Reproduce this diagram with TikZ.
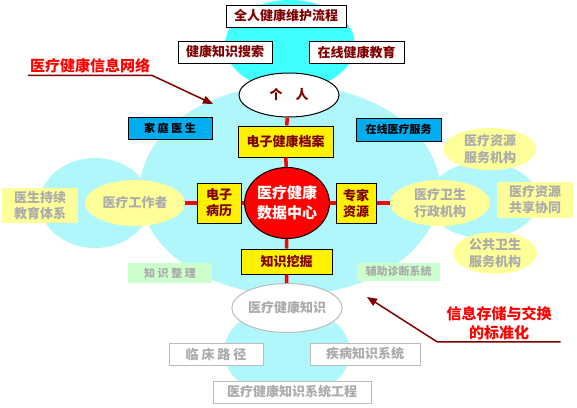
\documentclass[tikz,border=0pt]{standalone}
\usepackage{fontspec}
\setmainfont{Noto Sans CJK SC}
\usetikzlibrary{arrows.meta,shapes.geometric}
\definecolor{maroon}{HTML}{800000}
\definecolor{ghost}{HTML}{ABABAB}
\definecolor{paleyellow}{HTML}{FFFF99}
\definecolor{palegreen}{HTML}{CCFFCC}
\definecolor{dotcyan}{HTML}{B0F7FB}
\definecolor{gridcyan}{HTML}{40FFFF}
\newcommand{\cjksize}[2]{\bfseries\fontsize{#1}{#2}\selectfont}

\begin{document}
\begin{tikzpicture}[
x=1pt, y=-1pt,
darkbox/.style={draw, line width=1pt, fill=white, text=maroon, inner sep=0pt, minimum height=22pt, font=\cjksize{13}{16}},
cyanbox/.style={draw, line width=1pt, fill=cyan, text=black, inner sep=0pt, minimum height=22pt, font=\cjksize{11}{13}},
corebox/.style={draw, line width=1pt, fill=yellow, text=maroon, inner sep=0pt, align=center, font=\cjksize{13}{16}},
hub/.style={ellipse, draw, line width=1pt, fill=red, text=white, align=center, inner sep=0pt, font=\cjksize{15}{20}},
ghostoval/.style={ellipse, fill=paleyellow, text=ghost, align=center, inner sep=0pt, font=\cjksize{13}{17}},
ghostpad/.style={fill=paleyellow, text=ghost, align=center, inner sep=0pt, font=\cjksize{13}{16}},
ghostnote/.style={fill=palegreen, text=ghost, inner sep=0pt, font=\cjksize{11}{13}},
ghostbox/.style={draw=ghost!80, line width=1pt, fill=white, text=ghost, inner sep=0pt, minimum height=22pt, font=\cjksize{13}{16}},
link/.style={red, line width=3.5pt},
leader/.style={maroon, line width=1.5pt, -{Triangle[length=10pt,width=8pt]}},
callout/.style={text=red, align=center, font=\cjksize{15}{19}}
]
\useasboundingbox (0,0) rectangle (577,407);

% backgrounds
\fill[gridcyan] (290,45) ellipse [x radius=65pt, y radius=45pt];
\fill[dotcyan] (95,203) ellipse [x radius=55pt, y radius=45pt];
\fill[dotcyan] (483,200) ellipse [x radius=55pt, y radius=38pt];
\fill[dotcyan] (287,352) ellipse [x radius=63pt, y radius=46pt];
\fill[dotcyan] (290,190) ellipse [x radius=150pt, y radius=105pt];

% nodes
\node[darkbox, minimum width=120pt] (care) at (286,16) {全人健康维护流程};
\node[darkbox, minimum width=94pt] (search) at (225,52) {健康知识搜索};
\node[darkbox, minimum width=95pt] (edu) at (356.5,52) {在线健康教育};
\node[ellipse, draw, line width=1pt, fill=white, text=maroon, minimum width=100pt, minimum height=44pt, inner sep=0pt, font=\cjksize{13}{16}] (person) at (289,95) {个\quad 人};

\node[cyanbox, minimum width=84pt] (family) at (170,128) {家 庭 医 生};
\node[cyanbox, minimum width=85pt, minimum height=23pt] (online) at (398.5,129.5) {在线医疗服务};

\node[corebox, minimum width=95pt, minimum height=31pt] (ehr) at (285.5,141.5) {电子健康档案};
\node[corebox, minimum width=44pt, minimum height=40pt] (emr) at (219,203) {电子\\病历};
\node[corebox, minimum width=40pt, minimum height=40pt] (expert) at (356,203) {专家\\资源};
\node[corebox, minimum width=91pt, minimum height=25pt] (mining) at (286.5,261.5) {知识挖掘};
\node[hub, minimum width=83pt, minimum height=71pt] (datahub) at (287,203) {医疗健康\\数据中心};

\node[ghostoval, minimum width=100pt, minimum height=46pt] (worker) at (135,203) {医疗工作者};
\node[ghostoval, minimum width=93pt, minimum height=42pt] (resource) at (490,149) {医疗资源\\服务机构};
\node[ghostoval, minimum width=100pt, minimum height=46pt] (admin) at (440,203) {医疗卫生\\行政机构};
\node[ghostoval, minimum width=84pt, minimum height=40pt] (public) at (495,253) {公共卫生\\服务机构};
\node[ghostpad, minimum width=76pt, minimum height=35pt] (cme) at (40,205.5) {医生持续\\教育体系};
\node[ghostpad, minimum width=76pt, minimum height=36pt] (share) at (535,200) {医疗资源\\共享协同};
\node[ghostnote, minimum width=84pt, minimum height=20pt] (sorting) at (170,273) {知 识 整 理};
\node[ghostnote, minimum width=83pt, minimum height=18pt] (diagnosis) at (398.5,271.5) {辅助诊断系统};

\node[ellipse, draw=ghost!80, line width=1pt, fill=white, text=ghost, minimum width=100pt, minimum height=49pt, inner sep=0pt, font=\cjksize{13}{16}] (knowledge) at (287,308) {医疗健康知识};
\node[ghostbox, minimum width=94pt] (pathway) at (216,354) {临 床 路 径};
\node[ghostbox, minimum width=110pt] (disease) at (365,354) {疾病知识系统};
\node[ghostbox, minimum width=158pt] (project) at (292,392) {医疗健康知识系统工程};

% red links
\draw[link] (person) -- (ehr);
\draw[link] (ehr) -- (datahub);
\draw[link] (datahub) -- (mining);
\draw[link] (mining) -- (knowledge);
\draw[link] (worker) -- (emr);
\draw[link] (emr) -- (datahub);
\draw[link] (datahub) -- (expert);
\draw[link] (expert) -- (admin);

% callouts
\node[callout, inner sep=2pt] (network) at (90,66) {医疗健康信息网络};
\coordinate (networkTip) at (213,104);
\draw[leader] (network.south west) -- (network.south east) -- (networkTip);

\node[callout, inner xsep=9pt, inner ysep=2pt] (standard) at (499,323) {信息存储与交换\\的标准化};
\coordinate (standardTip) at (367,297);
\draw[leader] (standard.south east) -- (standard.south west) -- (standardTip);
\end{tikzpicture}
\end{document}
